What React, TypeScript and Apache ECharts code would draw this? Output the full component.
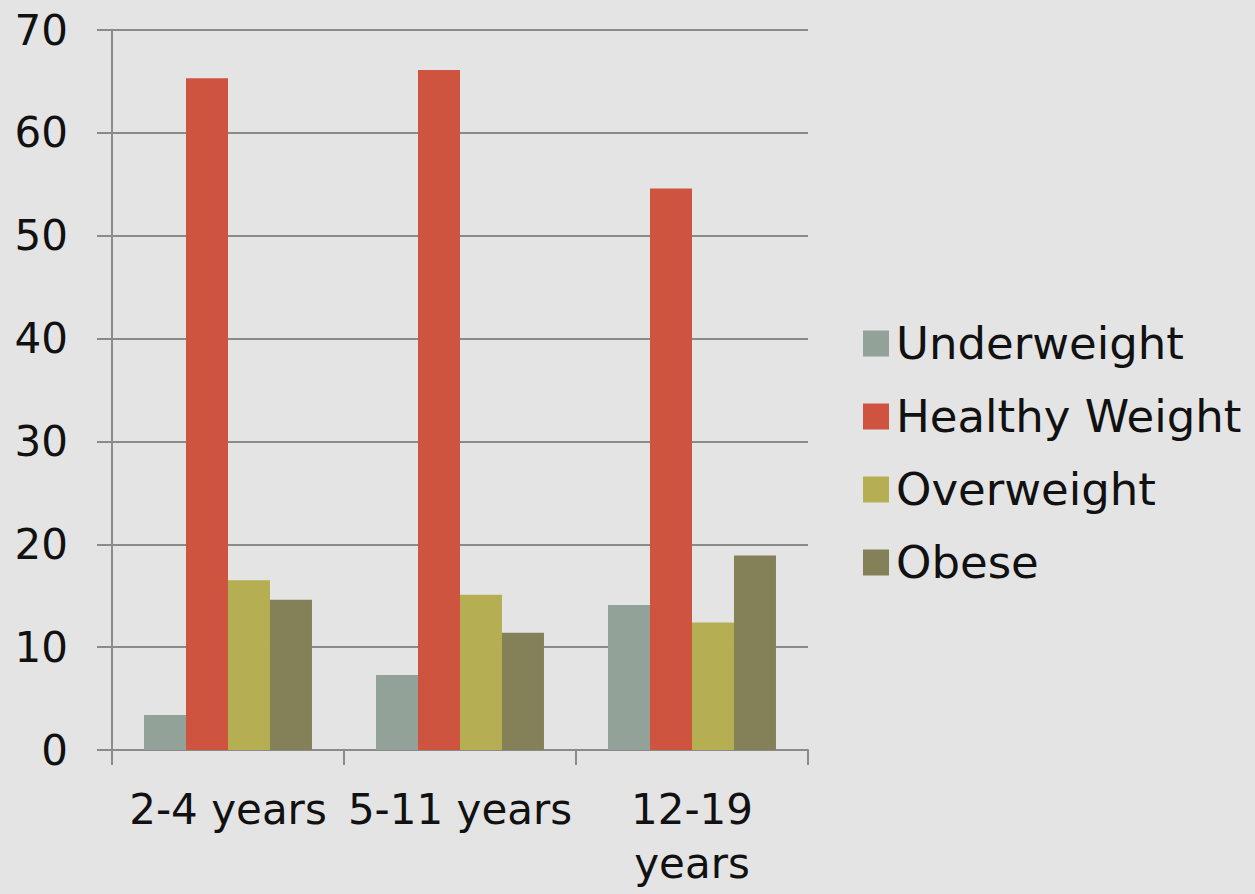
import React, { useEffect, useRef } from "react";
import * as echarts from "echarts";

const categories = ["2-4 years", "5-11 years", "12-19 years"];
const seriesNames = ["Underweight", "Healthy Weight", "Overweight", "Obese"];
const underweight = [3.4, 7.3, 14.1];
const healthyWeight = [65.3, 66.1, 54.6];
const overweight = [16.5, 15.1, 12.4];
const obese = [14.6, 11.4, 18.9];
const colors = ["#93a299", "#cf543f", "#b5ae53", "#848058"];

const FONT = "'DejaVu Sans', sans-serif";

export default function App() {
  const ref = useRef<HTMLDivElement>(null);
  useEffect(() => {
    document.body.style.margin = "0";
    document.body.style.background = "#e4e4e4";
    const chart = echarts.init(ref.current!, null, { renderer: "svg" });
    const values = [underweight, healthyWeight, overweight, obese];
    chart.setOption({
      animation: false,
      backgroundColor: "#e4e4e4",
      color: colors,
      grid: { left: 112, right: 447, top: 30, bottom: 144, containLabel: false },
      legend: {
        orient: "vertical",
        left: 858,
        top: 316,
        itemWidth: 26,
        itemHeight: 26,
        itemGap: 28,
        icon: "rect",
        textStyle: { fontFamily: FONT, fontSize: 45, color: "#111", padding: [0, 0, 0, 2] },
        data: seriesNames,
      },
      xAxis: {
        type: "category",
        data: categories,
        axisLine: { lineStyle: { color: "#8a8a8a", width: 2 } },
        axisTick: { show: true, length: 15, lineStyle: { color: "#8a8a8a", width: 2 } },
        axisLabel: {
          fontFamily: FONT,
          fontSize: 42,
          color: "#111",
          margin: 32,
          lineHeight: 54,
          interval: 0,
          formatter: (v: string) => (v === "12-19 years" ? "12-19\nyears" : v),
        },
      },
      yAxis: {
        type: "value",
        min: 0,
        max: 70,
        interval: 10,
        axisLine: { show: true, lineStyle: { color: "#8a8a8a", width: 2 } },
        axisTick: { show: true, length: 15, lineStyle: { color: "#8a8a8a", width: 2 } },
        splitLine: { lineStyle: { color: "#8a8a8a", width: 2 } },
        axisLabel: { fontFamily: FONT, fontSize: 42, color: "#111", margin: 44 },
      },
      series: seriesNames.map((name, i) => ({
        name,
        type: "bar",
        data: values[i],
        barGap: "0%",
        barCategoryGap: "27.6%",
        itemStyle: { color: colors[i] },
      })),
    });
    return () => chart.dispose();
  }, []);
  return <div ref={ref} style={{ width: 1255, height: 894 }} />;
}
